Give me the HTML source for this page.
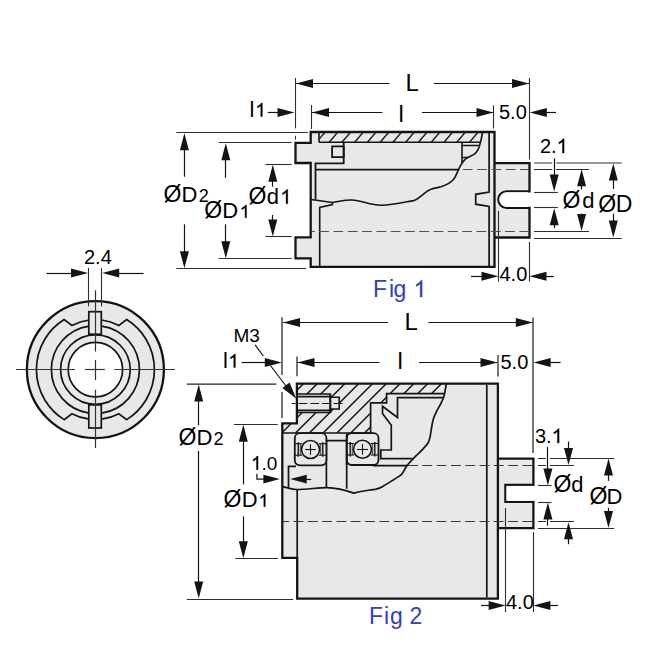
<!DOCTYPE html>
<html><head><meta charset="utf-8"><style>
html,body{margin:0;padding:0;background:#fff;}
svg{display:block;font-family:"Liberation Sans",sans-serif;}
</style></head><body>
<svg width="670" height="670" viewBox="0 0 670 670">
<rect width="670" height="670" fill="#fff"/>
<defs>
<clipPath id="c1"><path d="M319,132 L482.6,132 C482.2,135.5 481.6,139 480.9,143 L319,143 Z"/></clipPath>
</defs>
<path d="M494.5,163.2 H529.5 V191.3 H506.6 A8.3,8.3 0 0 0 506.6,207.9 H529.5 V237.5 H494.5" stroke="#141414" stroke-width="2.3" fill="#e7e8ea" stroke-linejoin="miter" />
<path d="M500,192.3 H506.6 A7.3,7.3 0 0 0 506.6,206.9 H528 V192.3 Z" fill="#fff"/>
<path d="M310.7,132 H494.5 V266.8 H310.7 V258.3 H295.5 V237.4 H310.7 V163 H295.5 V142.8 H310.7 Z" stroke="#141414" stroke-width="2.3" fill="#e7e8ea" stroke-linejoin="miter" />
<g clip-path="url(#c1)">
<line x1="303.42" y1="142.5" x2="312.34" y2="132" stroke="#141414" stroke-width="1.3"/>
<line x1="316.18" y1="142.5" x2="325.10" y2="132" stroke="#141414" stroke-width="1.3"/>
<line x1="328.94" y1="142.5" x2="337.86" y2="132" stroke="#141414" stroke-width="1.3"/>
<line x1="341.69" y1="142.5" x2="350.62" y2="132" stroke="#141414" stroke-width="1.3"/>
<line x1="354.45" y1="142.5" x2="363.38" y2="132" stroke="#141414" stroke-width="1.3"/>
<line x1="367.21" y1="142.5" x2="376.14" y2="132" stroke="#141414" stroke-width="1.3"/>
<line x1="379.97" y1="142.5" x2="388.90" y2="132" stroke="#141414" stroke-width="1.3"/>
<line x1="392.73" y1="142.5" x2="401.66" y2="132" stroke="#141414" stroke-width="1.3"/>
<line x1="405.49" y1="142.5" x2="414.42" y2="132" stroke="#141414" stroke-width="1.3"/>
<line x1="418.25" y1="142.5" x2="427.18" y2="132" stroke="#141414" stroke-width="1.3"/>
<line x1="431.01" y1="142.5" x2="439.94" y2="132" stroke="#141414" stroke-width="1.3"/>
<line x1="443.77" y1="142.5" x2="452.70" y2="132" stroke="#141414" stroke-width="1.3"/>
<line x1="456.53" y1="142.5" x2="465.46" y2="132" stroke="#141414" stroke-width="1.3"/>
<line x1="469.29" y1="142.5" x2="478.22" y2="132" stroke="#141414" stroke-width="1.3"/>
<line x1="482.05" y1="142.5" x2="490.98" y2="132" stroke="#141414" stroke-width="1.3"/>
</g>
<line x1="319" y1="132.5" x2="319" y2="142.3" stroke="#141414" stroke-width="1.6" />
<line x1="319" y1="142.3" x2="480.6" y2="142.3" stroke="#141414" stroke-width="1.6" />
<path d="M311,199.5 C320,200.5 326,201.8 332.4,202.5 C340,201.5 344,199.8 352,200 C362,200.2 370,205.4 381.6,205.2 C392,204.8 405,202 413.4,200.6 C420,199 425,191 431,189.2 C435,188 438,187.6 441,186.8 C446,185.2 450,183 453,180 C456,177 457,172.5 459,168.5 C460.5,165.5 462.5,161.5 466,158.6 C468.5,156.6 471,156.2 474,154.4 C477,152.5 478,150 479.3,146.5 C480.8,142 481.8,137 482.6,132" stroke="#141414" stroke-width="1.6" fill="none" stroke-linejoin="miter" />
<path d="M332.4,202.5 V204.6 L319.7,207.5 V266" stroke="#141414" stroke-width="1.6" fill="none" stroke-linejoin="miter" />
<path d="M315.5,199.5 V163.4 H343.7 V142.3" stroke="#141414" stroke-width="1.8" fill="none" stroke-linejoin="miter" />
<path d="M332.1,146.4 H343.7 V157.1 H332.1 Z" stroke="#141414" stroke-width="1.8" fill="none" stroke-linejoin="miter" />
<line x1="315.5" y1="169.6" x2="459.5" y2="169.6" stroke="#141414" stroke-width="1.7" />
<path d="M489.1,132 V192.1 L475.7,194.3 V204.2 L489.1,206.4 V266" stroke="#141414" stroke-width="1.7" fill="none" stroke-linejoin="miter" />
<path d="M462,142.3 V163" stroke="#141414" stroke-width="1.6" fill="none" stroke-linejoin="miter" />
<line x1="461.6" y1="145.5" x2="479.8" y2="145.5" stroke="#141414" stroke-width="1.5" />
<line x1="461.6" y1="157.5" x2="468" y2="157.5" stroke="#141414" stroke-width="1.5" />
<line x1="462" y1="169.5" x2="529" y2="169.5" stroke="#505050" stroke-width="1.2" stroke-dasharray="9.8 4.5" stroke-dashoffset="13.4"/>
<line x1="311" y1="231.5" x2="529" y2="231.5" stroke="#505050" stroke-width="1.2" stroke-dasharray="9.8 4.5" stroke-dashoffset="6.1"/>
<line x1="295.5" y1="78" x2="295.5" y2="128.4" stroke="#2e2e2e" stroke-width="1.1" />
<line x1="295.5" y1="135.8" x2="295.5" y2="139.6" stroke="#2e2e2e" stroke-width="1.1" />
<line x1="311.5" y1="105" x2="311.5" y2="129" stroke="#2e2e2e" stroke-width="1.1" />
<line x1="529.5" y1="78" x2="529.5" y2="159.5" stroke="#2e2e2e" stroke-width="1.1" />
<line x1="296" y1="83.5" x2="389.5" y2="83.5" stroke="#141414" stroke-width="1.2" />
<line x1="433.8" y1="83.5" x2="529" y2="83.5" stroke="#141414" stroke-width="1.2" />
<polygon points="296.00,83.50 313.00,79.00 313.00,88.00" fill="#141414"/>
<polygon points="529.00,83.50 512.00,79.00 512.00,88.00" fill="#141414"/>
<text x="405.5" y="91" font-size="24" text-anchor="start" fill="#000" >L</text>
<line x1="312" y1="112.5" x2="382.4" y2="112.5" stroke="#141414" stroke-width="1.2" />
<line x1="422" y1="112.5" x2="493" y2="112.5" stroke="#141414" stroke-width="1.2" />
<polygon points="312.00,112.50 329.00,108.00 329.00,117.00" fill="#141414"/>
<polygon points="493.50,112.50 476.50,108.00 476.50,117.00" fill="#141414"/>
<line x1="493.5" y1="105.3" x2="493.5" y2="128.6" stroke="#2e2e2e" stroke-width="1.1" />
<text x="398.6" y="121.8" font-size="24" text-anchor="start" fill="#000" >l</text>
<text x="249.6" y="116.6" font-size="22" text-anchor="start" fill="#000" >l</text>
<path transform="translate(255.30,116.5) scale(0.00928,-0.00928)" d="M763,0 H583 V1147 C540,1106 483,1065 413,1024 C343,983 280,952 223,927 V1101 C323,1148 410,1205 485,1272 C560,1339 613,1404 644,1466 H763 Z" fill="#000" stroke="#000" stroke-width="32.3"/>
<line x1="267.8" y1="112.5" x2="290" y2="112.5" stroke="#141414" stroke-width="1.2" />
<polygon points="294.50,112.50 277.50,108.00 277.50,117.00" fill="#141414"/>
<text x="499" y="118.7" font-size="20" text-anchor="start" fill="#000" >5.0</text>
<line x1="546" y1="112.5" x2="556" y2="112.5" stroke="#141414" stroke-width="1.2" />
<polygon points="529.80,112.50 546.80,108.00 546.80,117.00" fill="#141414"/>
<line x1="176.3" y1="132.5" x2="307.7" y2="132.5" stroke="#2e2e2e" stroke-width="1.1" />
<line x1="176.3" y1="268.5" x2="306" y2="268.5" stroke="#2e2e2e" stroke-width="1.1" />
<line x1="218.5" y1="142.5" x2="291.6" y2="142.5" stroke="#2e2e2e" stroke-width="1.1" />
<line x1="218.5" y1="258.5" x2="291.6" y2="258.5" stroke="#2e2e2e" stroke-width="1.1" />
<line x1="265.5" y1="164.5" x2="291.6" y2="164.5" stroke="#2e2e2e" stroke-width="1.1" />
<line x1="265.5" y1="236.5" x2="291.6" y2="236.5" stroke="#2e2e2e" stroke-width="1.1" />
<line x1="184.5" y1="140" x2="184.5" y2="176.7" stroke="#141414" stroke-width="1.2" />
<polygon points="184.40,133.30 179.90,150.30 188.90,150.30" fill="#141414"/>
<line x1="184.5" y1="224.3" x2="184.5" y2="255" stroke="#141414" stroke-width="1.2" />
<polygon points="184.40,268.30 179.90,251.30 188.90,251.30" fill="#141414"/>
<line x1="225.5" y1="150" x2="225.5" y2="177.8" stroke="#141414" stroke-width="1.2" />
<polygon points="225.80,143.20 221.30,160.20 230.30,160.20" fill="#141414"/>
<line x1="225.5" y1="224.3" x2="225.5" y2="245" stroke="#141414" stroke-width="1.2" />
<polygon points="225.80,258.30 221.30,241.30 230.30,241.30" fill="#141414"/>
<line x1="272.5" y1="170" x2="272.5" y2="186.7" stroke="#141414" stroke-width="1.2" />
<polygon points="272.80,164.70 268.30,181.70 277.30,181.70" fill="#141414"/>
<line x1="272.5" y1="214.9" x2="272.5" y2="225" stroke="#141414" stroke-width="1.2" />
<polygon points="272.80,236.40 268.30,219.40 277.30,219.40" fill="#141414"/>
<text fill="#000"><tspan x="163.50" y="201.5" font-size="23">Ø</tspan><tspan x="181.50" y="201.5" font-size="22">D</tspan><tspan x="198.80" y="201.5" font-size="18">2</tspan></text>
<path transform="translate(239.84,217.8) scale(0.00879,-0.00879)" d="M763,0 H583 V1147 C540,1106 483,1065 413,1024 C343,983 280,952 223,927 V1101 C323,1148 410,1205 485,1272 C560,1339 613,1404 644,1466 H763 Z" fill="#000" stroke="#000" stroke-width="34.1"/>
<text fill="#000"><tspan x="204.20" y="217.8" font-size="23">Ø</tspan><tspan x="222.20" y="217.8" font-size="22">D</tspan></text>
<path transform="translate(280.32,203.7) scale(0.00977,-0.00977)" d="M763,0 H583 V1147 C540,1106 483,1065 413,1024 C343,983 280,952 223,927 V1101 C323,1148 410,1205 485,1272 C560,1339 613,1404 644,1466 H763 Z" fill="#000" stroke="#000" stroke-width="30.7"/>
<text fill="#000"><tspan x="248.50" y="203.7" font-size="23">Ø</tspan><tspan x="266.80" y="203.7" font-size="22">d</tspan></text>
<line x1="534" y1="163.0" x2="621.7" y2="163.0" stroke="#2e2e2e" stroke-width="1.1" />
<line x1="534" y1="238.5" x2="621.7" y2="238.5" stroke="#2e2e2e" stroke-width="1.1" />
<line x1="534" y1="169.5" x2="589" y2="169.5" stroke="#2e2e2e" stroke-width="1.1" />
<line x1="534" y1="231.5" x2="589" y2="231.5" stroke="#2e2e2e" stroke-width="1.1" />
<line x1="534" y1="192.5" x2="557.8" y2="192.5" stroke="#2e2e2e" stroke-width="1.1" />
<line x1="534" y1="207.5" x2="557.8" y2="207.5" stroke="#2e2e2e" stroke-width="1.1" />
<rect x="552.2" y="161.5" width="4" height="3" fill="#fff"/>
<rect x="552.2" y="168.0" width="4" height="3" fill="#fff"/>
<line x1="554.5" y1="158.4" x2="554.5" y2="180" stroke="#141414" stroke-width="1.2" />
<polygon points="554.20,191.60 549.70,174.60 558.70,174.60" fill="#141414"/>
<line x1="554.5" y1="220" x2="554.5" y2="228" stroke="#141414" stroke-width="1.2" />
<polygon points="554.20,208.20 549.70,225.20 558.70,225.20" fill="#141414"/>
<text x="540.00" y="153" font-size="20" fill="#000">2</text>
<text x="551.12" y="153" font-size="20" fill="#000">.</text>
<path transform="translate(556.68,153) scale(0.00977,-0.00977)" d="M763,0 H583 V1147 C540,1106 483,1065 413,1024 C343,983 280,952 223,927 V1101 C323,1148 410,1205 485,1272 C560,1339 613,1404 644,1466 H763 Z" fill="#000" stroke="#000" stroke-width="30.7"/>
<line x1="581.5" y1="180" x2="581.5" y2="189.4" stroke="#141414" stroke-width="1.2" />
<polygon points="581.60,169.30 577.10,186.30 586.10,186.30" fill="#141414"/>
<line x1="581.5" y1="213.6" x2="581.5" y2="220" stroke="#141414" stroke-width="1.2" />
<polygon points="581.60,231.00 577.10,214.00 586.10,214.00" fill="#141414"/>
<line x1="613.5" y1="175" x2="613.5" y2="189" stroke="#141414" stroke-width="1.2" />
<polygon points="613.30,163.40 608.80,180.40 617.80,180.40" fill="#141414"/>
<line x1="613.5" y1="213.6" x2="613.5" y2="225" stroke="#141414" stroke-width="1.2" />
<polygon points="613.30,237.60 608.80,220.60 617.80,220.60" fill="#141414"/>
<text fill="#000"><tspan x="562.40" y="207.8" font-size="23">Ø</tspan><tspan x="582.20" y="207.8" font-size="22">d</tspan></text>
<text fill="#000"><tspan x="598.30" y="211.6" font-size="23">Ø</tspan><tspan x="615.80" y="211.6" font-size="23">D</tspan></text>
<line x1="498.5" y1="210.9" x2="498.5" y2="281.6" stroke="#2e2e2e" stroke-width="1.1" />
<line x1="529.5" y1="242" x2="529.5" y2="281.5" stroke="#2e2e2e" stroke-width="1.1" />
<line x1="471" y1="276.5" x2="490" y2="276.5" stroke="#141414" stroke-width="1.2" />
<polygon points="498.50,276.30 481.50,271.80 481.50,280.80" fill="#141414"/>
<line x1="540" y1="276.5" x2="554" y2="276.5" stroke="#141414" stroke-width="1.2" />
<polygon points="529.50,276.30 546.50,271.80 546.50,280.80" fill="#141414"/>
<text x="499.5" y="280.8" font-size="20" text-anchor="start" fill="#000" >4.0</text>
<path transform="translate(413.60,296.9) scale(0.01123,-0.01123)" d="M763,0 H583 V1147 C540,1106 483,1065 413,1024 C343,983 280,952 223,927 V1101 C323,1148 410,1205 485,1272 C560,1339 613,1404 644,1466 H763 Z" fill="#3440b8" stroke="#3440b8" stroke-width="26.7"/>
<text fill="#3440b8"><tspan x="372.90" y="296.9" font-size="23">F</tspan><tspan x="388.90" y="296.9" font-size="23">i</tspan><tspan x="393.60" y="296.9" font-size="23">g</tspan></text>
<defs><clipPath id="c2"><path clip-rule="evenodd" d="M296.9,383.7 H446.4 C446,387 445.3,390.5 444.6,393.6 H386.6 V402.9 H370.6 V433 H282.3 V423.4 H296.9 Z M296.9,394.1 H330.3 V397.2 H339.2 V409 H330.3 V412.4 H296.9 Z"/></clipPath></defs>
<path d="M497.9,458.7 H533.4 V484.8 H505.4 V501.9 H533.4 V528.1 H497.9" stroke="#141414" stroke-width="2.3" fill="#e7e8ea" stroke-linejoin="miter" />
<rect x="506.5" y="485.9" width="27" height="14.9" fill="#fff"/>
<path d="M296.9,383.7 H497.9 V598.6 H297.2 V557.9 H282.3 V423.4 H296.9 Z" stroke="#141414" stroke-width="2.3" fill="#e7e8ea" stroke-linejoin="miter" />
<g clip-path="url(#c2)">
<line x1="226.50" y1="433" x2="275.80" y2="383.7" stroke="#141414" stroke-width="1.5"/>
<line x1="240.30" y1="433" x2="289.60" y2="383.7" stroke="#141414" stroke-width="1.5"/>
<line x1="254.10" y1="433" x2="303.40" y2="383.7" stroke="#141414" stroke-width="1.5"/>
<line x1="267.90" y1="433" x2="317.20" y2="383.7" stroke="#141414" stroke-width="1.5"/>
<line x1="281.70" y1="433" x2="331.00" y2="383.7" stroke="#141414" stroke-width="1.5"/>
<line x1="295.50" y1="433" x2="344.80" y2="383.7" stroke="#141414" stroke-width="1.5"/>
<line x1="309.30" y1="433" x2="358.60" y2="383.7" stroke="#141414" stroke-width="1.5"/>
<line x1="323.10" y1="433" x2="372.40" y2="383.7" stroke="#141414" stroke-width="1.5"/>
<line x1="336.90" y1="433" x2="386.20" y2="383.7" stroke="#141414" stroke-width="1.5"/>
<line x1="350.70" y1="433" x2="400.00" y2="383.7" stroke="#141414" stroke-width="1.5"/>
<line x1="364.50" y1="433" x2="413.80" y2="383.7" stroke="#141414" stroke-width="1.5"/>
<line x1="378.30" y1="433" x2="427.60" y2="383.7" stroke="#141414" stroke-width="1.5"/>
<line x1="392.10" y1="433" x2="441.40" y2="383.7" stroke="#141414" stroke-width="1.5"/>
<line x1="405.90" y1="433" x2="455.20" y2="383.7" stroke="#141414" stroke-width="1.5"/>
<line x1="419.70" y1="433" x2="469.00" y2="383.7" stroke="#141414" stroke-width="1.5"/>
<line x1="433.50" y1="433" x2="482.80" y2="383.7" stroke="#141414" stroke-width="1.5"/>
<line x1="447.30" y1="433" x2="496.60" y2="383.7" stroke="#141414" stroke-width="1.5"/>
<line x1="461.10" y1="433" x2="510.40" y2="383.7" stroke="#141414" stroke-width="1.5"/>
</g>
<line x1="486.8" y1="384.8" x2="486.8" y2="597.5" stroke="#141414" stroke-width="1.7" />
<line x1="282.3" y1="433" x2="370.6" y2="433" stroke="#141414" stroke-width="1.7" />
<path d="M370.6,433 V402.9 H386.6 V393.6 H444.6" stroke="#141414" stroke-width="1.7" fill="none" stroke-linejoin="miter" />
<path d="M443.6,397.7 H397.5 V417.5 L382.5,406.3 V413.4 L391.3,425.3 V450 H380.8 V458.6 H412.4" stroke="#141414" stroke-width="1.7" fill="none" stroke-linejoin="miter" />
<line x1="373" y1="465.7" x2="407" y2="465.7" stroke="#141414" stroke-width="1.7" />
<path d="M282.3,486.6 C288,487.8 292,489.2 296.4,489.5 C306,489.6 318,487.6 326.4,487.6 C336,487.8 344,489.5 353.9,493.1 C358,491.9 362,491.2 366.7,490.5 C371,489.9 374,489.5 376.1,489.1 C379,488.4 381,487.4 382.8,486.4 C386,484.6 390,482 393.6,479.7 C397,477.4 399.5,476.5 401.6,474.3 C404,471.5 405,468 407,465.6 C409,463.2 410.5,461.4 412.4,459.6 C414,458 415,456.5 416.4,455.5 C419,453 421,451 423.1,448.8 C425,446.5 427.5,444.5 428.5,442.1 C430,438.5 430.8,434 431.2,430 C431.8,426 432.4,422.5 433.1,419.8 C434,416.8 435,414.5 436.1,412.3 C438,408.5 440,405.5 441.2,402.8 C442.5,400 443.8,397.5 444.2,395.4 C445,391.5 445.8,387.5 446.4,383.7" stroke="#141414" stroke-width="1.7" fill="none" stroke-linejoin="miter" />
<path d="M296.9,394.1 H330.3 V412.4 H296.9" stroke="#141414" stroke-width="1.5" fill="none" stroke-linejoin="miter" />
<line x1="296.9" y1="396.7" x2="330.3" y2="396.7" stroke="#141414" stroke-width="1.7" />
<line x1="296.9" y1="410.3" x2="330.3" y2="410.3" stroke="#141414" stroke-width="1.7" />
<path d="M330.3,397.2 H339.2 V409 H330.3" stroke="#141414" stroke-width="1.6" fill="none" stroke-linejoin="miter" />
<line x1="330.3" y1="394.1" x2="330.3" y2="412.4" stroke="#141414" stroke-width="2.0" />
<line x1="291.7" y1="403.5" x2="343" y2="403.5" stroke="#141414" stroke-width="1.1" stroke-dasharray="8.8 2.9" stroke-dashoffset="4.9"/>
<path d="M288.5,487.5 V466.3 H296" stroke="#141414" stroke-width="1.7" fill="none" stroke-linejoin="miter" />
<path d="M326.4,487.5 V440.7 H346.7 V488.8" stroke="#141414" stroke-width="1.7" fill="none" stroke-linejoin="miter" />
<line x1="297.2" y1="489" x2="297.2" y2="557.9" stroke="#141414" stroke-width="1.7" />
<rect x="294.8" y="433.1" width="31.599999999999966" height="32.19999999999999" rx="5" ry="5" fill="#e7e8ea" stroke="#141414" stroke-width="1.8"/>
<circle cx="310.5" cy="449.5" r="9.0" fill="#e7e8ea" stroke="#141414" stroke-width="1.6"/>
<line x1="305.1" y1="449.5" x2="315.9" y2="449.5" stroke="#141414" stroke-width="1.1" />
<line x1="310.5" y1="444.3" x2="310.5" y2="454.9" stroke="#141414" stroke-width="1.1" />
<line x1="295.0" y1="443.7" x2="302.2" y2="443.7" stroke="#141414" stroke-width="1.1" />
<line x1="295.0" y1="455.2" x2="302.2" y2="455.2" stroke="#141414" stroke-width="1.1" />
<line x1="298.2" y1="442.3" x2="298.2" y2="456.7" stroke="#141414" stroke-width="1.4" />
<line x1="300.3" y1="443.7" x2="300.3" y2="455.2" stroke="#141414" stroke-width="0.8" />
<line x1="326.0" y1="443.7" x2="318.8" y2="443.7" stroke="#141414" stroke-width="1.1" />
<line x1="326.0" y1="455.2" x2="318.8" y2="455.2" stroke="#141414" stroke-width="1.1" />
<line x1="322.8" y1="442.3" x2="322.8" y2="456.7" stroke="#141414" stroke-width="1.4" />
<line x1="320.7" y1="443.7" x2="320.7" y2="455.2" stroke="#141414" stroke-width="0.8" />
<rect x="346.8" y="433.1" width="31.69999999999999" height="31.899999999999977" rx="5" ry="5" fill="#e7e8ea" stroke="#141414" stroke-width="1.8"/>
<circle cx="362.5" cy="449.3" r="9.0" fill="#e7e8ea" stroke="#141414" stroke-width="1.6"/>
<line x1="357.1" y1="449.5" x2="367.9" y2="449.5" stroke="#141414" stroke-width="1.1" />
<line x1="362.5" y1="444.1" x2="362.5" y2="454.7" stroke="#141414" stroke-width="1.1" />
<line x1="347.0" y1="443.5" x2="354.2" y2="443.5" stroke="#141414" stroke-width="1.1" />
<line x1="347.0" y1="455.0" x2="354.2" y2="455.0" stroke="#141414" stroke-width="1.1" />
<line x1="350.2" y1="442.1" x2="350.2" y2="456.5" stroke="#141414" stroke-width="1.4" />
<line x1="352.3" y1="443.5" x2="352.3" y2="455.0" stroke="#141414" stroke-width="0.8" />
<line x1="378.0" y1="443.5" x2="370.8" y2="443.5" stroke="#141414" stroke-width="1.1" />
<line x1="378.0" y1="455.0" x2="370.8" y2="455.0" stroke="#141414" stroke-width="1.1" />
<line x1="374.8" y1="442.1" x2="374.8" y2="456.5" stroke="#141414" stroke-width="1.4" />
<line x1="372.7" y1="443.5" x2="372.7" y2="455.0" stroke="#141414" stroke-width="0.8" />
<line x1="346.7" y1="433.5" x2="346.7" y2="465" stroke="#141414" stroke-width="1.8" />
<line x1="407" y1="465.5" x2="533.4" y2="465.5" stroke="#383838" stroke-width="1.2" stroke-dasharray="9.8 4.5" stroke-dashoffset="13.2"/>
<line x1="282.3" y1="521.5" x2="533.4" y2="521.5" stroke="#383838" stroke-width="1.2" stroke-dasharray="9.8 4.5" stroke-dashoffset="3"/>
<line x1="282.0" y1="317.2" x2="282.0" y2="375.1" stroke="#222" stroke-width="1.25" />
<line x1="282.0" y1="392" x2="282.0" y2="418.1" stroke="#222" stroke-width="1.25" />
<line x1="297.0" y1="356.6" x2="297.0" y2="376.3" stroke="#222" stroke-width="1.25" />
<line x1="533.0" y1="317.5" x2="533.0" y2="453" stroke="#222" stroke-width="1.25" />
<line x1="283" y1="322.5" x2="388" y2="322.5" stroke="#141414" stroke-width="1.2" />
<line x1="428.4" y1="322.5" x2="532.6" y2="322.5" stroke="#141414" stroke-width="1.2" />
<polygon points="283.00,322.40 300.00,317.90 300.00,326.90" fill="#141414"/>
<polygon points="532.80,322.40 515.80,317.90 515.80,326.90" fill="#141414"/>
<text x="404.5" y="330.4" font-size="24" text-anchor="start" fill="#000" >L</text>
<line x1="297.5" y1="362.5" x2="379.5" y2="362.5" stroke="#141414" stroke-width="1.2" />
<line x1="419" y1="362.5" x2="497" y2="362.5" stroke="#141414" stroke-width="1.2" />
<polygon points="297.50,362.40 314.50,357.90 314.50,366.90" fill="#141414"/>
<polygon points="497.50,362.40 480.50,357.90 480.50,366.90" fill="#141414"/>
<line x1="498.0" y1="355" x2="498.0" y2="376.6" stroke="#222" stroke-width="1.25" />
<text x="397.5" y="368.5" font-size="24" text-anchor="start" fill="#000" >l</text>
<text x="222.9" y="367.7" font-size="22" text-anchor="start" fill="#000" >l</text>
<path transform="translate(228.30,367.6) scale(0.00928,-0.00928)" d="M763,0 H583 V1147 C540,1106 483,1065 413,1024 C343,983 280,952 223,927 V1101 C323,1148 410,1205 485,1272 C560,1339 613,1404 644,1466 H763 Z" fill="#000" stroke="#000" stroke-width="32.3"/>
<line x1="241.6" y1="362.5" x2="265" y2="362.5" stroke="#141414" stroke-width="1.2" />
<polygon points="281.80,362.40 264.80,357.90 264.80,366.90" fill="#141414"/>
<text x="233.5" y="341.8" font-size="19" text-anchor="start" fill="#000" >M3</text>
<line x1="255.1" y1="344.8" x2="263.3" y2="356" stroke="#141414" stroke-width="1.2" />
<line x1="270.4" y1="365.5" x2="286" y2="386" stroke="#141414" stroke-width="1.2" />
<polygon points="296.3,398.8 282.44,387.98 289.60,382.54" fill="#141414"/>
<text x="500.5" y="368.5" font-size="20" text-anchor="start" fill="#000" >5.0</text>
<line x1="545" y1="362.5" x2="560.6" y2="362.5" stroke="#141414" stroke-width="1.2" />
<polygon points="533.60,362.40 550.60,357.90 550.60,366.90" fill="#141414"/>
<line x1="186.8" y1="384.0" x2="276.3" y2="384.0" stroke="#222" stroke-width="1.25" />
<line x1="186.8" y1="599.5" x2="293.1" y2="599.5" stroke="#2e2e2e" stroke-width="1.1" />
<line x1="234" y1="424.5" x2="277.7" y2="424.5" stroke="#2e2e2e" stroke-width="1.1" />
<line x1="235.3" y1="558.5" x2="278" y2="558.5" stroke="#2e2e2e" stroke-width="1.1" />
<line x1="198.5" y1="395" x2="198.5" y2="425.2" stroke="#141414" stroke-width="1.2" />
<polygon points="198.70,384.40 194.20,401.40 203.20,401.40" fill="#141414"/>
<line x1="198.5" y1="450.8" x2="198.5" y2="585" stroke="#141414" stroke-width="1.2" />
<polygon points="198.70,598.60 194.20,581.60 203.20,581.60" fill="#141414"/>
<line x1="243.5" y1="435" x2="243.5" y2="484.4" stroke="#141414" stroke-width="1.2" />
<polygon points="243.30,424.80 238.80,441.80 247.80,441.80" fill="#141414"/>
<line x1="243.5" y1="516.4" x2="243.5" y2="548" stroke="#141414" stroke-width="1.2" />
<polygon points="243.30,558.30 238.80,541.30 247.80,541.30" fill="#141414"/>
<text fill="#000"><tspan x="178.60" y="445.1" font-size="23">Ø</tspan><tspan x="196.40" y="445.1" font-size="22">D</tspan><tspan x="213.40" y="445.1" font-size="18">2</tspan></text>
<path transform="translate(258.64,506.8) scale(0.00879,-0.00879)" d="M763,0 H583 V1147 C540,1106 483,1065 413,1024 C343,983 280,952 223,927 V1101 C323,1148 410,1205 485,1272 C560,1339 613,1404 644,1466 H763 Z" fill="#000" stroke="#000" stroke-width="34.1"/>
<text fill="#000"><tspan x="223.60" y="506.8" font-size="23">Ø</tspan><tspan x="241.80" y="506.8" font-size="22">D</tspan></text>
<path transform="translate(251.00,469.7) scale(0.00928,-0.00928)" d="M763,0 H583 V1147 C540,1106 483,1065 413,1024 C343,983 280,952 223,927 V1101 C323,1148 410,1205 485,1272 C560,1339 613,1404 644,1466 H763 Z" fill="#000" stroke="#000" stroke-width="32.3"/>
<text x="261.57" y="469.7" font-size="19" fill="#000">.</text>
<text x="266.85" y="469.7" font-size="19" fill="#000">0</text>
<path d="M256.9,473.8 V479.1 H266" stroke="#141414" stroke-width="1.2" fill="none" stroke-linejoin="miter" />
<polygon points="279.90,479.10 263.40,474.70 263.40,483.50" fill="#141414"/>
<line x1="300" y1="479.5" x2="311.2" y2="479.5" stroke="#141414" stroke-width="1.2" />
<polygon points="290.20,479.10 306.70,474.70 306.70,483.50" fill="#141414"/>
<line x1="538" y1="458.5" x2="614.2" y2="458.5" stroke="#2e2e2e" stroke-width="1.1" />
<line x1="538" y1="528.5" x2="614.2" y2="528.5" stroke="#2e2e2e" stroke-width="1.1" />
<line x1="538" y1="465.5" x2="573.9" y2="465.5" stroke="#2e2e2e" stroke-width="1.1" />
<line x1="538" y1="521.5" x2="573.9" y2="521.5" stroke="#2e2e2e" stroke-width="1.1" />
<line x1="538" y1="485.5" x2="551.5" y2="485.5" stroke="#2e2e2e" stroke-width="1.1" />
<line x1="538" y1="502.5" x2="551.5" y2="502.5" stroke="#2e2e2e" stroke-width="1.1" />
<rect x="545.9" y="457.0" width="4" height="3" fill="#fff"/>
<rect x="545.9" y="464.0" width="4" height="3" fill="#fff"/>
<rect x="545.9" y="520.0" width="4" height="3" fill="#fff"/>
<line x1="547.5" y1="446.9" x2="547.5" y2="470" stroke="#141414" stroke-width="1.2" />
<polygon points="547.90,485.40 543.40,468.40 552.40,468.40" fill="#141414"/>
<line x1="547.5" y1="515" x2="547.5" y2="525.7" stroke="#141414" stroke-width="1.2" />
<polygon points="547.90,502.40 543.40,519.40 552.40,519.40" fill="#141414"/>
<text x="535.00" y="443" font-size="20" fill="#000">3</text>
<text x="546.12" y="443" font-size="20" fill="#000">.</text>
<path transform="translate(551.68,443) scale(0.00977,-0.00977)" d="M763,0 H583 V1147 C540,1106 483,1065 413,1024 C343,983 280,952 223,927 V1101 C323,1148 410,1205 485,1272 C560,1339 613,1404 644,1466 H763 Z" fill="#000" stroke="#000" stroke-width="30.7"/>
<line x1="568.5" y1="441.5" x2="568.5" y2="450" stroke="#141414" stroke-width="1.2" />
<polygon points="568.50,465.00 564.00,448.00 573.00,448.00" fill="#141414"/>
<line x1="568.5" y1="535" x2="568.5" y2="544.2" stroke="#141414" stroke-width="1.2" />
<polygon points="568.50,522.20 564.00,539.20 573.00,539.20" fill="#141414"/>
<line x1="608.5" y1="470" x2="608.5" y2="480.9" stroke="#141414" stroke-width="1.2" />
<polygon points="608.50,458.40 604.00,475.40 613.00,475.40" fill="#141414"/>
<line x1="608.5" y1="507.8" x2="608.5" y2="515" stroke="#141414" stroke-width="1.2" />
<polygon points="608.50,528.00 604.00,511.00 613.00,511.00" fill="#141414"/>
<text fill="#000"><tspan x="553.40" y="491.6" font-size="23">Ø</tspan><tspan x="571.30" y="491.6" font-size="22">d</tspan></text>
<text fill="#000"><tspan x="589.50" y="503.7" font-size="23">Ø</tspan><tspan x="606.40" y="503.7" font-size="22">D</tspan></text>
<line x1="505.5" y1="507.9" x2="505.5" y2="612.2" stroke="#2e2e2e" stroke-width="1.1" />
<line x1="533.5" y1="532" x2="533.5" y2="612" stroke="#2e2e2e" stroke-width="1.1" />
<line x1="481" y1="605.5" x2="490" y2="605.5" stroke="#141414" stroke-width="1.2" />
<polygon points="505.60,605.60 488.60,601.10 488.60,610.10" fill="#141414"/>
<line x1="545" y1="605.5" x2="557.9" y2="605.5" stroke="#141414" stroke-width="1.2" />
<polygon points="533.40,605.60 550.40,601.10 550.40,610.10" fill="#141414"/>
<text x="506" y="608.7" font-size="20" text-anchor="start" fill="#000" >4.0</text>
<text fill="#3440b8"><tspan x="368.90" y="623.6" font-size="23">F</tspan><tspan x="384.00" y="623.6" font-size="23">i</tspan><tspan x="390.00" y="623.6" font-size="23">g</tspan><tspan x="409.40" y="623.6" font-size="23">2</tspan></text>
<circle cx="95.4" cy="369.6" r="68.5" fill="#e7e8ea" stroke="#141414" stroke-width="2.3"/>
<path d="M101.70,320.00 A50,50 0 0 1 118.87,325.45 L126.67,319.57 A59,59 0 0 1 126.67,419.63 L118.87,413.75 A50,50 0 0 1 101.70,419.20M89.10,320.00 A50,50 0 0 0 71.93,325.45 L64.13,319.57 A59,59 0 0 0 64.13,419.63 L71.93,413.75 A50,50 0 0 0 89.10,419.20" stroke="#141414" stroke-width="1.7" fill="none" stroke-linejoin="miter" />
<path d="M101.70,326.05 A44,44 0 0 1 101.70,413.15" stroke="#141414" stroke-width="1.7" fill="none" stroke-linejoin="miter" />
<path d="M89.10,326.05 A44,44 0 0 0 89.10,413.15" stroke="#141414" stroke-width="1.7" fill="none" stroke-linejoin="miter" />
<circle cx="95.4" cy="369.6" r="34.8" fill="none" stroke="#141414" stroke-width="1.7"/>
<circle cx="95.4" cy="369.6" r="27.2" fill="#fff" stroke="#141414" stroke-width="1.7"/>
<rect x="88.8" y="311.7" width="12.5" height="22.5" fill="#e7e8ea" stroke="#141414" stroke-width="1.7"/>
<rect x="88.8" y="404.9" width="12.5" height="23.1" fill="#e7e8ea" stroke="#141414" stroke-width="1.7"/>
<line x1="16" y1="369.5" x2="74.9" y2="369.5" stroke="#333" stroke-width="1.2" />
<line x1="85.1" y1="369.5" x2="104.8" y2="369.5" stroke="#333" stroke-width="1.2" />
<line x1="114.3" y1="369.5" x2="175" y2="369.5" stroke="#333" stroke-width="1.2" />
<line x1="95.5" y1="290.3" x2="95.5" y2="351.5" stroke="#333" stroke-width="1.2" />
<line x1="95.5" y1="359.9" x2="95.5" y2="380.1" stroke="#333" stroke-width="1.2" />
<line x1="95.5" y1="389.7" x2="95.5" y2="448" stroke="#333" stroke-width="1.2" />
<line x1="88.5" y1="268" x2="88.5" y2="306.3" stroke="#2e2e2e" stroke-width="1.1" />
<line x1="101.5" y1="268" x2="101.5" y2="306.3" stroke="#2e2e2e" stroke-width="1.1" />
<line x1="46.4" y1="273.5" x2="75" y2="273.5" stroke="#141414" stroke-width="1.2" />
<polygon points="88.00,273.10 71.00,268.60 71.00,277.60" fill="#141414"/>
<line x1="115" y1="273.5" x2="143.6" y2="273.5" stroke="#141414" stroke-width="1.2" />
<polygon points="102.20,273.10 119.20,268.60 119.20,277.60" fill="#141414"/>
<text x="84" y="264.2" font-size="20" text-anchor="start" fill="#000" >2.4</text>
</svg></body></html>
